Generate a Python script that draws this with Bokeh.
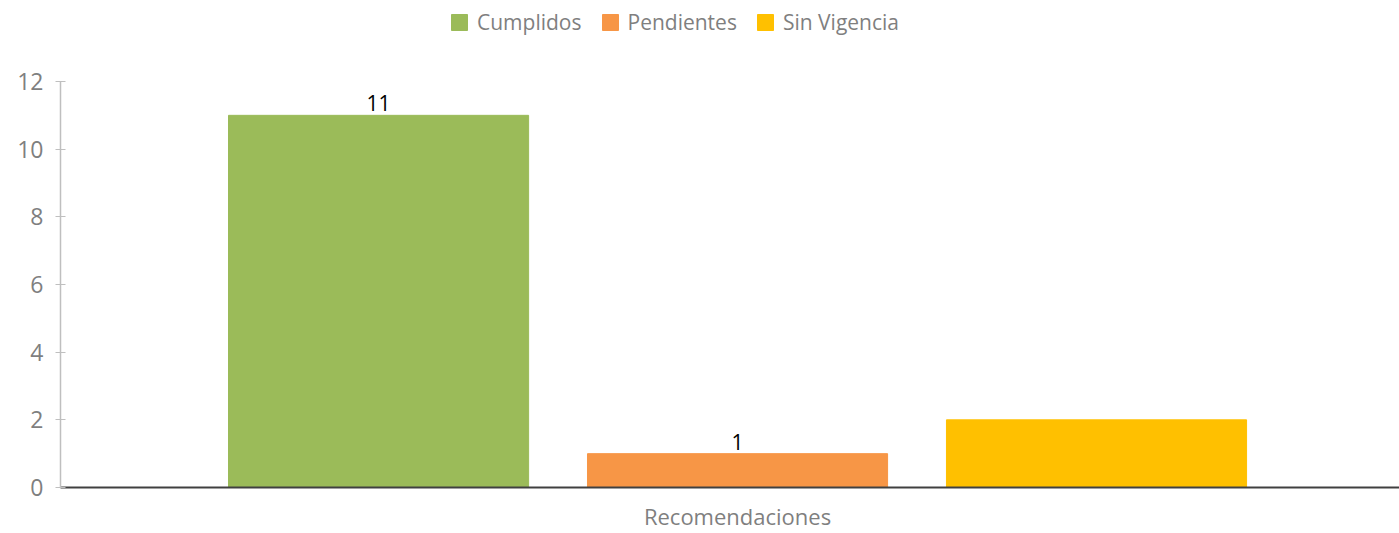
from bokeh.plotting import figure
from bokeh.models import ColumnDataSource, Range1d, FixedTicker, Legend, LegendItem
from bokeh.core.properties import value
from bokeh.embed import file_html
from bokeh.resources import INLINE

categories = ["Cumplidos", "Pendientes", "Sin Vigencia"]
values = [11, 1, 2]
labels = ["11", "1", ""]
colors = ["#9BBB59", "#F79646", "#FFC000"]
group_label = "Recomendaciones"
y_ticks = [0, 2, 4, 6, 8, 10, 12]
y_max = 12

FONT = "Open Sans"
xs = list(range(len(categories)))
src = ColumnDataSource(dict(x=xs, v=values, lab=labels, color=colors, cat=categories))

# frame spans the full height above the axis so the legend can sit inside it;
# the axis itself is bounded to 0..12
p = figure(width=1399, height=533, output_backend="svg", toolbar_location=None,
           x_range=Range1d(-0.886, 2.844), y_range=Range1d(0, y_max * 487 / 406),
           min_border_left=60, min_border_top=0, min_border_bottom=46, min_border_right=0)
p.outline_line_color = None
p.grid.visible = False
p.background_fill_color = "white"
p.border_fill_color = "white"

r = p.vbar(x="x", top="v", width=0.836, color="color", source=src)

p.text(x="x", y="v", text="lab", source=src, text_align="center", text_baseline="bottom",
       y_offset=-4, text_font=value(FONT), text_font_size="21px", text_color="black")

# y axis
ya = p.yaxis[0]
ya.ticker = FixedTicker(ticks=y_ticks)
ya.bounds = (0, y_max)
ya.axis_line_color = "#BFBFBF"
ya.axis_line_width = 1.5
ya.major_tick_line_color = "#BFBFBF"
ya.major_tick_in = 5
ya.major_tick_out = 5
ya.minor_tick_line_color = None
ya.minor_tick_in = 0
ya.minor_tick_out = 0
ya.major_label_text_font = FONT
ya.major_label_text_font_size = "23px"
ya.major_label_text_color = "#7F7F7F"
ya.major_label_standoff = 12

# x axis
xa = p.xaxis[0]
xa.ticker = FixedTicker(ticks=[1])
xa.major_label_overrides = {1: group_label}
xa.axis_line_color = "#404040"
xa.axis_line_width = 2
xa.major_tick_line_color = None
xa.minor_tick_line_color = None
xa.major_tick_in = 0
xa.major_tick_out = 0
xa.minor_tick_in = 0
xa.minor_tick_out = 0
xa.major_label_text_font = FONT
xa.major_label_text_font_size = "22px"
xa.major_label_text_color = "#7F7F7F"
xa.major_label_standoff = 13

items = [LegendItem(label=c, renderers=[r], index=i) for i, c in enumerate(categories)]
leg = Legend(items=items, orientation="horizontal", location=(389, 451),
             glyph_width=20, glyph_height=20, label_standoff=8, spacing=18,
             padding=0, margin=0, border_line_color=None, background_fill_alpha=0,
             label_text_font=FONT, label_text_font_size="21px", label_text_color="#7F7F7F")
p.add_layout(leg, "center")

open("out.html", "w").write(file_html(p, INLINE))
